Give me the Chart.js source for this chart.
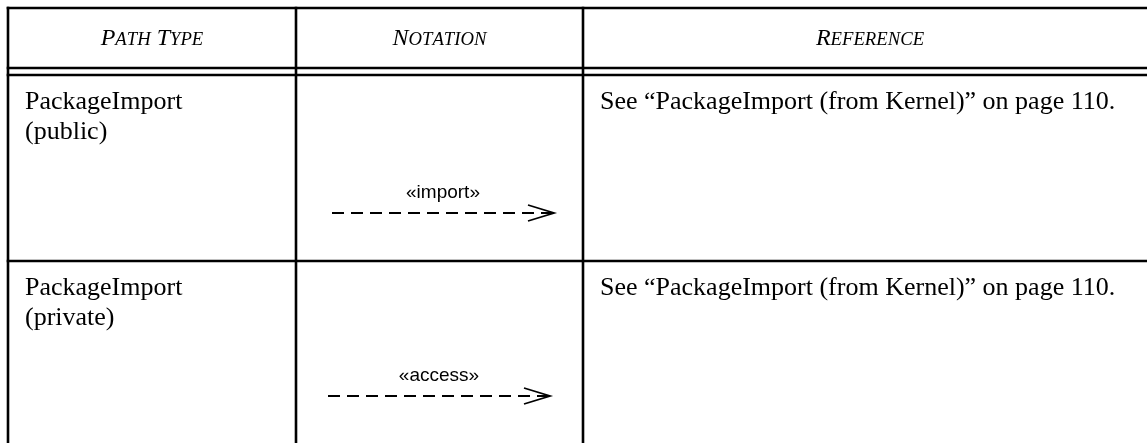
<!DOCTYPE html>
<html><head><meta charset="utf-8">
<script src="https://cdn.jsdelivr.net/npm/chart.js@4"></script>
<style>html,body{margin:0;padding:0;background:#fff;overflow:hidden}#wrap{width:1147px;height:443px}</style>
</head><body><div id="wrap"><canvas id="c" width="1147" height="443"></canvas></div>
<script>
// ---- data ----
const headers = ["Path Type", "Notation", "Reference"];
const pathTypes = [["PackageImport", "(public)"], ["PackageImport", "(private)"]];
const stereotypes = ["«import»", "«access»"];
const references = ["See “PackageImport (from Kernel)” on page 110.", "See “PackageImport (from Kernel)” on page 110."];

// ---- layout (pixel-like units on linear scales) ----
const L = {
  colX: [8, 296, 583, 1157],
  top: 8, headBot1: 68, headBot2: 75, rowBot: [261, 460],
  arrowY: [213, 396], arrowX: [[332, 554], [328, 550]],
  headLen: 26, headHalf: 8
};

const datasets = [];
function seg(pts, opts) {
  datasets.push(Object.assign({type: 'line', data: pts, showLine: true, pointRadius: 0, borderColor: '#000', borderWidth: 2.6, fill: false, tension: 0}, opts || {}));
}
const right = L.colX[L.colX.length - 1];
[L.top, L.headBot1, L.headBot2, L.rowBot[0]].forEach(y => seg([{x: L.colX[0] - 1.3, y}, {x: right, y}]));
L.colX.forEach(x => seg([{x, y: L.top - 1.3}, {x, y: 460}]));
stereotypes.forEach((s, i) => {
  const y = L.arrowY[i], [x0, x1] = L.arrowX[i];
  seg([{x: x0, y}, {x: x1, y}], {borderWidth: 1.8, borderDash: [12, 7]});
  seg([{x: x1 - L.headLen, y: y - L.headHalf}, {x: x1, y}, {x: x1 - L.headLen, y: y + L.headHalf}], {borderWidth: 1.8});
});

function smallCaps(ctx, text, cx, y, size) {
  const parts = [];
  text.split(' ').forEach((w, wi) => {
    if (wi > 0) parts.push({t: ' ', s: size});
    w.split('').forEach((ch, ci) => parts.push({t: ch.toUpperCase(), s: ci === 0 ? size : size * 0.78}));
  });
  let total = 0;
  parts.forEach(p => { ctx.font = 'italic ' + p.s + 'px "Liberation Serif", "Times New Roman", serif'; p.w = ctx.measureText(p.t).width; total += p.w; });
  let x = cx - total / 2;
  parts.forEach(p => { ctx.font = 'italic ' + p.s + 'px "Liberation Serif", "Times New Roman", serif'; ctx.fillText(p.t, x, y); x += p.w; });
}

const textPlugin = {
  id: 'tableText',
  afterDatasetsDraw(chart) {
    const ctx = chart.ctx, xs = chart.scales.x, ys = chart.scales.y;
    const X = v => xs.getPixelForValue(v), Y = v => ys.getPixelForValue(v);
    ctx.save();
    ctx.fillStyle = '#000';
    ctx.textBaseline = 'alphabetic';
    ctx.textAlign = 'left';
    headers.forEach((h, i) => {
      const cx = (X(L.colX[i]) + X(L.colX[i + 1])) / 2;
      smallCaps(ctx, h, cx, Y(45), 24);
    });
    const rowTop = [L.headBot2, L.rowBot[0]];
    pathTypes.forEach((lines, i) => {
      ctx.font = '26px "Liberation Serif", "Times New Roman", serif';
      ctx.textAlign = 'left';
      lines.forEach((t, j) => ctx.fillText(t, X(L.colX[0] + 17), Y(rowTop[i] + 34 + j * 30)));
      ctx.fillText(references[i], X(L.colX[2] + 17), Y(rowTop[i] + 34));
      ctx.font = '19px "Liberation Sans", Arial, sans-serif';
      ctx.textAlign = 'center';
      const [x0, x1] = L.arrowX[i];
      ctx.fillText(stereotypes[i], X((x0 + x1) / 2), Y(L.arrowY[i] - 15));
    });
    ctx.restore();
  }
};

new Chart(document.getElementById('c'), {
  type: 'scatter',
  data: {datasets},
  options: {
    responsive: false, animation: false, events: [],
    layout: {padding: 0},
    plugins: {legend: {display: false}, tooltip: {enabled: false}},
    scales: {
      x: {type: 'linear', min: 0, max: 1147, display: false},
      y: {type: 'linear', min: 0, max: 443, reverse: true, display: false}
    }
  },
  plugins: [textPlugin]
});
</script></body></html>
